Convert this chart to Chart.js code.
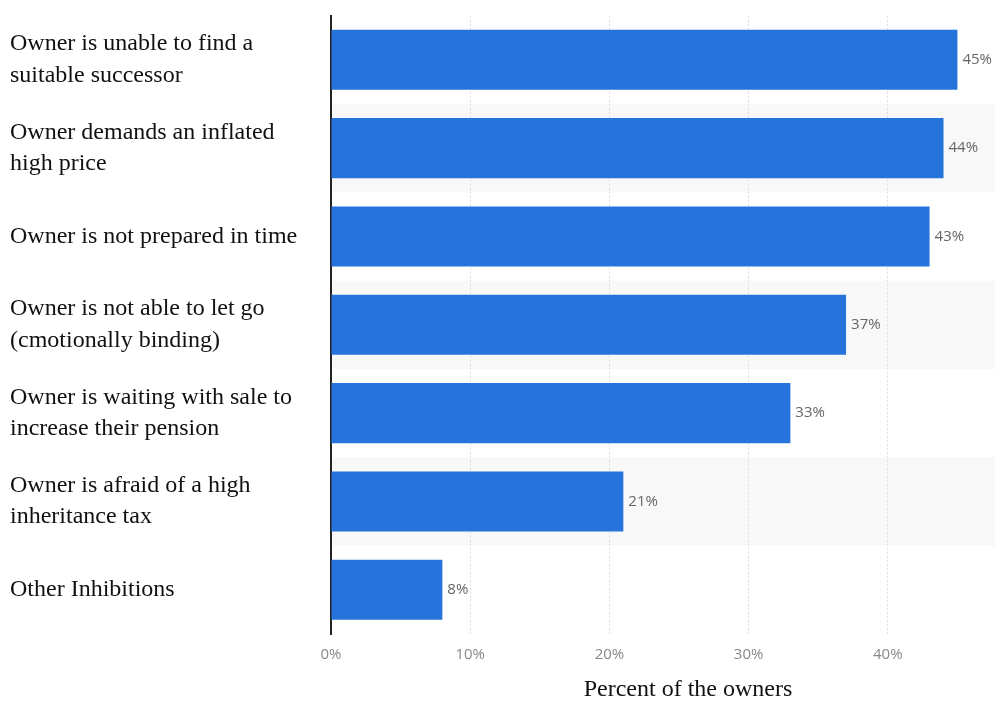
<!DOCTYPE html>
<html>
<head>
<meta charset="utf-8">
<script src="https://cdn.jsdelivr.net/npm/chart.js@4"></script>
<style>
  html, body { margin: 0; padding: 0; background: #fff; }
  #wrap { width: 995px; height: 704px; }
</style>
</head>
<body>
<div id="wrap"><canvas id="chart"></canvas></div>
<script>
// data
const categories = [
    ["Owner is unable to find a", "suitable successor"],
    ["Owner demands an inflated", "high price"],
    "Owner is not prepared in time",
    ["Owner is not able to let go", "(cmotionally binding)"],
    ["Owner is waiting with sale to", "increase their pension"],
    ["Owner is afraid of a high", "inheritance tax"],
    "Other Inhibitions"
];
const shares = [45, 44, 43, 37, 33, 21, 8];
const xTicks = [0, 10, 20, 30, 40];
const xTitle = "Percent of the owners";

// stripes behind every second row (drawn before grid and axes)
const stripes = {
    id: "stripes",
    beforeDraw(chart) {
        const { ctx, chartArea, scales } = chart;
        const y = scales.y;
        const step = (chartArea.bottom - chartArea.top) / categories.length;
        ctx.save();
        ctx.fillStyle = "#f8f8f8";
        categories.forEach((c, i) => {
            if (i % 2 === 1) {
                const mid = y.getPixelForValue(i);
                ctx.fillRect(chartArea.left, mid - step / 2, chartArea.right - chartArea.left, step);
            }
        });
        ctx.restore();
    }
};

// value labels at bar ends + axis title
const valueLabels = {
    id: "valueLabels",
    afterDatasetsDraw(chart) {
        const { ctx, chartArea } = chart;
        const meta = chart.getDatasetMeta(0);
        ctx.save();
        ctx.font = "15px 'Open Sans', sans-serif";
        ctx.fillStyle = "#666";
        ctx.textBaseline = "middle";
        meta.data.forEach((bar, i) => {
            ctx.fillText(shares[i] + "%", bar.x + 5, bar.y);
        });
        ctx.font = "24px 'Liberation Serif', serif";
        ctx.fillStyle = "#111";
        ctx.textAlign = "center";
        ctx.fillText(xTitle, 688, chartArea.bottom + 56);
        ctx.restore();
    }
};

const ctx = document.getElementById("chart").getContext("2d");
new Chart(ctx, {
    type: "bar",
    data: {
        labels: categories,
        datasets: [{
            data: shares,
            backgroundColor: "#2673db",
            barPercentage: 0.68,
            categoryPercentage: 1
        }]
    },
    options: {
        indexAxis: "y",
        responsive: true,
        maintainAspectRatio: false,
        animation: false,
        layout: { padding: { left: 10, top: 11, right: 0, bottom: 28 } },
        plugins: {
            legend: { display: false },
            tooltip: { enabled: false }
        },
        scales: {
            x: {
                min: 0,
                max: 47.7,
                afterBuildTicks: (scale) => {
                    scale.ticks = xTicks.map(v => ({ value: v }));
                },
                ticks: {
                    callback: (v) => v + "%",
                    color: "#888",
                    font: { family: "'Open Sans', sans-serif", size: 15 },
                    padding: 12
                },
                grid: {
                    color: (c) => c.tick && c.tick.value === 0 ? "rgba(0,0,0,0)" : "#dcdcdc",
                    drawTicks: false
                },
                border: { display: false, dash: [2, 2] }
            },
            y: {
                afterFit: (scale) => { scale.width = 321; },
                ticks: {
                    crossAlign: "far",
                    color: "#111",
                    font: { family: "'Liberation Serif', serif", size: 24, lineHeight: 1.3 },
                    padding: 0
                },
                grid: { display: false, drawTicks: false },
                border: { display: true, color: "#222", width: 2 }
            }
        }
    },
    plugins: [stripes, valueLabels]
});
</script>
</body>
</html>
